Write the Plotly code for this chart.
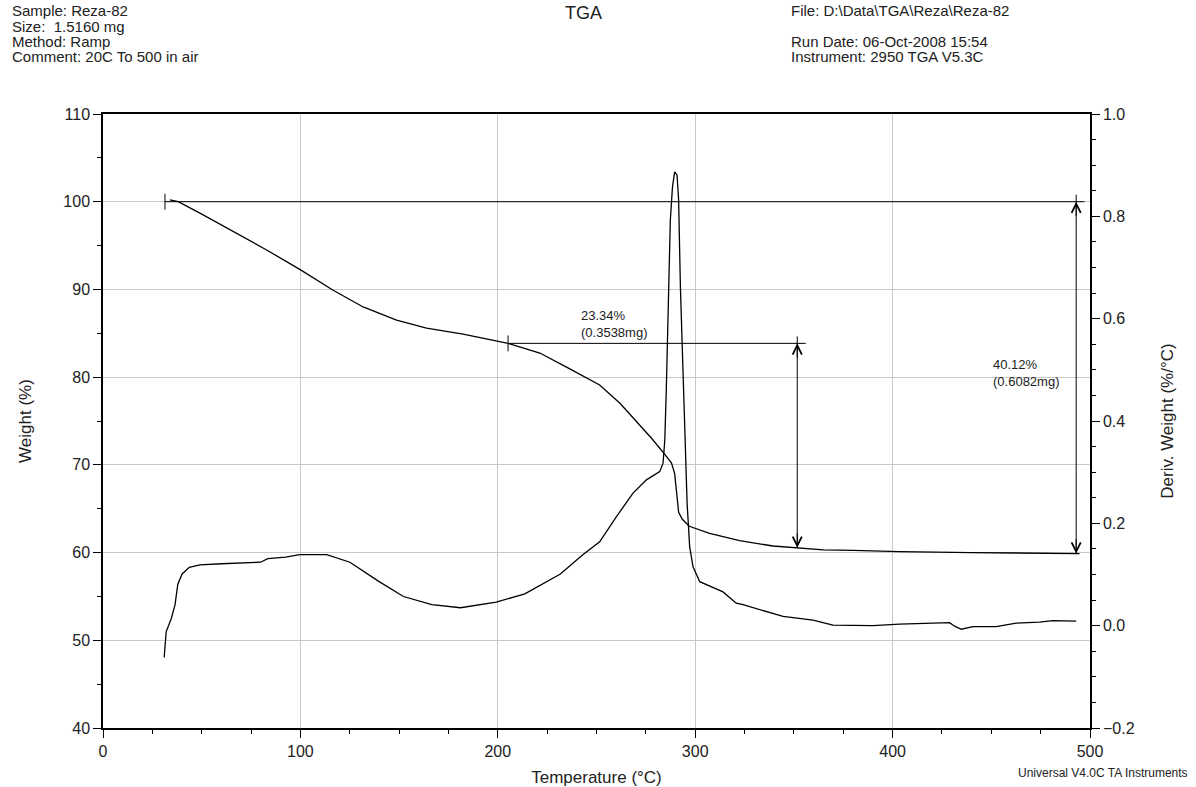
import plotly.graph_objects as go

# ---------------- data ----------------
weight_T = [33.9, 38.1, 49.1, 66.0, 82.9, 100.3, 116.6, 131.8, 148.7, 163.9, 182.4, 205.2,
            221.3, 236.0, 251.6, 262.0, 271.0, 278.0, 284.6, 288.0, 289.6, 290.8, 291.6,
            293.5, 297.0, 307.3, 322.5, 339.4, 351.2, 365.0, 380.0, 403.5, 440.0, 470.0, 494.7]
weight_pct = [100.2, 100.0, 98.7, 96.6, 94.5, 92.2, 89.9, 88.0, 86.5, 85.6, 84.9, 83.85,
              82.75, 81.0, 79.1, 77.0, 74.8, 73.0, 71.2, 70.2, 69.0, 66.75, 64.6,
              63.8, 63.0, 62.2, 61.35, 60.75, 60.55, 60.3, 60.25, 60.1, 60.0, 59.95, 59.88]

deriv_T = [31.0, 32.0, 34.6, 36.5, 37.9, 40.1, 43.7, 49.1, 60.0, 79.8, 83.5, 92.5, 99.7,
           113.3, 125.1, 139.5, 152.2, 166.6, 181.1, 199.2, 213.7, 231.7, 242.6, 251.6,
           260.1, 268.5, 275.3, 282.0, 283.7, 284.6, 285.4, 286.6, 287.4, 288.5, 289.6,
           290.8, 291.6, 292.5, 293.5, 294.7, 295.9, 297.2, 298.9, 302.3, 312.4, 314.1,
           320.8, 324.2, 344.5, 359.7, 369.8, 378.2, 390.0, 403.5, 422.1, 428.9, 431.4,
           434.8, 440.7, 452.5, 462.6, 474.4, 481.2, 493.0]
deriv_val = [-0.062, -0.012, 0.014, 0.041, 0.081, 0.101, 0.114, 0.119, 0.121, 0.124, 0.131,
             0.134, 0.139, 0.139, 0.124, 0.087, 0.057, 0.041, 0.035, 0.046, 0.062, 0.101,
             0.137, 0.164, 0.213, 0.259, 0.285, 0.301, 0.317, 0.363, 0.467, 0.676, 0.793,
             0.858, 0.887, 0.881, 0.832, 0.662, 0.532, 0.350, 0.239, 0.154, 0.115, 0.086,
             0.070, 0.066, 0.044, 0.041, 0.018, 0.011, 0.001, 0.001, 0.000, 0.003, 0.005,
             0.006, -0.001, -0.007, -0.002, -0.002, 0.005, 0.007, 0.010, 0.009]

# step analysis annotations
step_start_T = [205.2, 31.4]
step_arrow_T = [351.7, 493.0]
step_end_T = [356.0, 497.2]
step_top = [83.85, 100.0]
step_bottom = [60.55, 59.88]
step_labels = ["23.34%<br>(0.3538mg)", "40.12%<br>(0.6082mg)"]
step_label_T = [241.0, 450.0]
step_label_W = [86.1, 80.5]

header_left = ["Sample: Reza-82", "Size:  1.5160 mg", "Method: Ramp", "Comment: 20C To 500 in air"]
header_right = ["File: D:\\Data\\TGA\\Reza\\Reza-82", "", "Run Date: 06-Oct-2008 15:54",
                "Instrument: 2950 TGA V5.3C"]

# ---------------- layout geometry (pixels) ----------------
W_PX, H_PX = 1196, 787
L, R, T, B = 103, 1090, 114, 728
FONT = "Liberation Sans, Arial, sans-serif"
TXT = "#222222"


def px_x(px):
    return (px - L) / (R - L)


def px_y(py):
    return (B - py) / (B - T)


fig = go.Figure()

fig.add_trace(go.Scatter(x=weight_T, y=weight_pct, mode="lines",
                         line=dict(color="black", width=1.3), yaxis="y", showlegend=False))
fig.add_trace(go.Scatter(x=deriv_T, y=deriv_val, mode="lines",
                         line=dict(color="black", width=1.3), yaxis="y2", showlegend=False))

for i in range(len(step_start_T)):
    fig.add_trace(go.Scatter(x=[step_start_T[i], step_end_T[i]], y=[step_top[i], step_top[i]],
                             mode="lines", line=dict(color="black", width=1), showlegend=False))
    fig.add_trace(go.Scatter(x=[step_start_T[i], step_start_T[i]],
                             y=[step_top[i] - 0.9, step_top[i] + 0.9],
                             mode="lines", line=dict(color="black", width=1), showlegend=False))
    fig.add_trace(go.Scatter(x=[step_arrow_T[i], step_arrow_T[i]],
                             y=[step_top[i] + 0.8, step_bottom[i]],
                             mode="lines", line=dict(color="black", width=1), showlegend=False))
    fig.add_annotation(x=step_arrow_T[i], y=step_top[i], xref="x", yref="y", ax=0, ay=16,
                       showarrow=True, arrowhead=5, arrowsize=1.8, arrowwidth=1,
                       arrowcolor="black", text="")
    fig.add_annotation(x=step_arrow_T[i], y=step_bottom[i], xref="x", yref="y", ax=0, ay=-16,
                       showarrow=True, arrowhead=5, arrowsize=1.8, arrowwidth=1,
                       arrowcolor="black", text="")
    fig.add_annotation(x=step_label_T[i], y=step_label_W[i], xref="x", yref="y",
                       text=step_labels[i], showarrow=False, xanchor="left", align="left",
                       font=dict(family=FONT, size=13, color=TXT))

line_y = [11, 27, 42, 57]
for i, t in enumerate(header_left):
    fig.add_annotation(x=px_x(10), y=px_y(line_y[i]), xref="paper", yref="paper", text=t,
                       showarrow=False, xanchor="left", yanchor="middle",
                       font=dict(family=FONT, size=15, color=TXT))
for i, t in enumerate(header_right):
    if t:
        fig.add_annotation(x=px_x(789), y=px_y(line_y[i]), xref="paper", yref="paper", text=t,
                           showarrow=False, xanchor="left", yanchor="middle",
                           font=dict(family=FONT, size=15, color=TXT))
fig.add_annotation(x=px_x(583), y=px_y(13), xref="paper", yref="paper", text="TGA",
                   showarrow=False, xanchor="center", yanchor="middle",
                   font=dict(family=FONT, size=18, color=TXT))
fig.add_annotation(x=px_x(1190), y=px_y(773), xref="paper", yref="paper",
                   text="Universal V4.0C TA Instruments", showarrow=False,
                   xanchor="right", yanchor="middle", font=dict(family=FONT, size=12, color=TXT))

fig.update_layout(
    width=W_PX, height=H_PX,
    margin=dict(l=L, r=W_PX - R, t=T, b=H_PX - B, pad=0, autoexpand=False),
    paper_bgcolor="white", plot_bgcolor="white",
    font=dict(family=FONT, color=TXT, size=16),
    xaxis=dict(range=[0, 500], dtick=100, tick0=0, showgrid=True, gridcolor="#c8c8c8",
               gridwidth=1, showline=True, linecolor="black", linewidth=1.5, mirror=True,
               ticks="outside", ticklen=8, tickcolor="black", zeroline=False, automargin=False,
               minor=dict(dtick=25, ticks="outside", ticklen=4, tickcolor="black", showgrid=False),
               title=dict(text="Temperature (°C)", font=dict(size=17), standoff=12),
               tickfont=dict(size=16)),
    yaxis=dict(range=[40, 110], dtick=10, showgrid=True, gridcolor="#c8c8c8", gridwidth=1,
               showline=True, linecolor="black", linewidth=1.5, ticks="outside", ticklen=8,
               tickcolor="black", zeroline=False, automargin=False,
               minor=dict(dtick=5, ticks="outside", ticklen=4, tickcolor="black", showgrid=False),
               title=dict(text="Weight (%)", font=dict(size=17), standoff=27),
               tickfont=dict(size=16)),
    yaxis2=dict(range=[-0.2, 1.0], dtick=0.2, tick0=0, overlaying="y", side="right",
                showgrid=False, showline=True, linecolor="black", linewidth=1.5,
                ticks="outside", ticklen=8, tickcolor="black", zeroline=False,
                tickformat=".1f", automargin=False,
                minor=dict(dtick=0.05, ticks="outside", ticklen=4, tickcolor="black"),
                title=dict(text="Deriv. Weight (%/°C)", font=dict(size=17), standoff=27),
                tickfont=dict(size=16)),
    showlegend=False,
)

fig.write_html("out.html")
